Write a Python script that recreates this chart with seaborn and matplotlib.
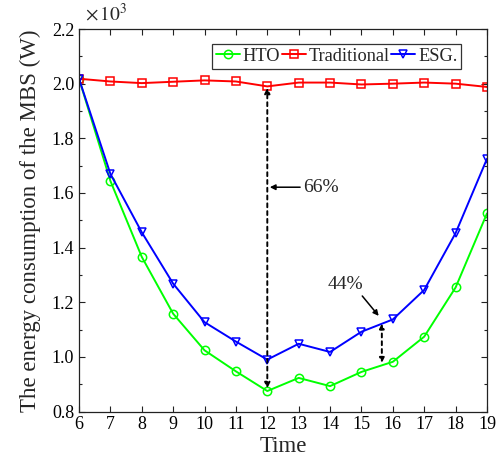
import numpy as np
import pandas as pd
import matplotlib
matplotlib.use("Agg")
import matplotlib.pyplot as plt
from matplotlib.ticker import MultipleLocator
import seaborn as sns

# Hourly MBS energy consumption (x10^3 W)
hours = [6, 7, 8, 9, 10, 11, 12, 13, 14, 15, 16, 17, 18, 19]
hto = [2.018, 1.644, 1.366, 1.158, 1.024, 0.947, 0.875, 0.923, 0.893, 0.945, 0.982, 1.074, 1.254, 1.525]
traditional = [2.018, 2.008, 2.002, 2.007, 2.012, 2.008, 1.990, 2.004, 2.004, 1.997, 2.000, 2.004, 2.000, 1.988]
esg = [2.018, 1.670, 1.456, 1.268, 1.127, 1.056, 0.990, 1.048, 1.018, 1.092, 1.137, 1.245, 1.453, 1.725]

series_names = ["HTO", "Traditional", "ESG."]
series_values = [hto, traditional, esg]
colors = ["#00ff00", "#ff0000", "#0000ff"]
markers = ["o", "s", "v"]

sns.set_theme(style="ticks")
plt.rcParams["font.family"] = ["Liberation Serif", "DejaVu Serif"]
plt.rcParams["mathtext.fontset"] = "stix"

fig = plt.figure(figsize=(5.01, 4.65), dpi=100)
ax = fig.add_axes([0.1577, 0.115, 0.8143, 0.8226])

for name, vals, c, m in zip(series_names, series_values, colors, markers):
    df = pd.DataFrame({"Time": hours, "Energy": vals})
    sns.lineplot(data=df, x="Time", y="Energy", ax=ax, color=c, marker=m,
                 markersize=6, markerfacecolor="none", markeredgecolor=c,
                 markeredgewidth=1.1, linewidth=1.4, label=name)

ax.set_xlim(6, 19)
ax.set_ylim(0.8, 2.2)
ax.set_xticks(hours)
ax.yaxis.set_major_locator(MultipleLocator(0.2))
ax.yaxis.set_minor_locator(MultipleLocator(0.1))
ax.yaxis.set_major_formatter(matplotlib.ticker.FormatStrFormatter("%.1f"))
ax.tick_params(axis="both", which="both", direction="in", top=True, right=True,
               labelsize=13, colors="#222222", labelcolor="black")
ax.tick_params(which="major", length=4, width=0.8)
ax.tick_params(which="minor", length=2.5, width=0.8)
for sp in ax.spines.values():
    sp.set_linewidth(0.9)
    sp.set_color("#222222")

ax.set_xlabel("Time", fontsize=16.5, labelpad=2)
ax.set_ylabel("The energy consumption of the MBS (W)", fontsize=16.5, labelpad=8)
ax.text(0.015, 1.012, r"$\times\,10^3$", transform=ax.transAxes, fontsize=14,
        ha="left", va="bottom")

# Saving at 12:00 between traditional and HTO
ax.annotate("", xy=(12, 1.985), xytext=(12, 0.885),
            arrowprops=dict(arrowstyle="<|-|>", linestyle=(0, (2, 2)), lw=1.4,
                            color="black", mutation_scale=8, shrinkA=0, shrinkB=0))
ax.annotate("66%", xy=(12.08, 1.621), xytext=(13.15, 1.621), fontsize=14,
            va="center", ha="left",
            arrowprops=dict(arrowstyle="-|>", lw=1.1, color="black",
                            mutation_scale=8, shrinkA=0, shrinkB=0))

# Saving near 15:40 between ESG and HTO
ax.annotate("", xy=(15.65, 1.122), xytext=(15.65, 0.978),
            arrowprops=dict(arrowstyle="<|-|>", linestyle=(0, (2, 2)), lw=1.4,
                            color="black", mutation_scale=7, shrinkA=0, shrinkB=0))
ax.annotate("44%", xy=(15.55, 1.150), xytext=(13.93, 1.266), fontsize=14,
            va="center", ha="left",
            arrowprops=dict(arrowstyle="-|>", lw=1.1, color="black",
                            mutation_scale=8, shrinkA=0, shrinkB=0,
                            relpos=(0.85, 0.1)))

leg = ax.legend(loc="upper right", bbox_to_anchor=(0.9375, 0.962), ncol=3,
                fontsize=13.2, frameon=True, fancybox=False, handlelength=1.3,
                handletextpad=0.15, columnspacing=0.1, borderpad=0.22,
                borderaxespad=0.0)
leg.get_frame().set_edgecolor("black")
leg.get_frame().set_linewidth(0.9)

fig.savefig("out.png", dpi=100)
